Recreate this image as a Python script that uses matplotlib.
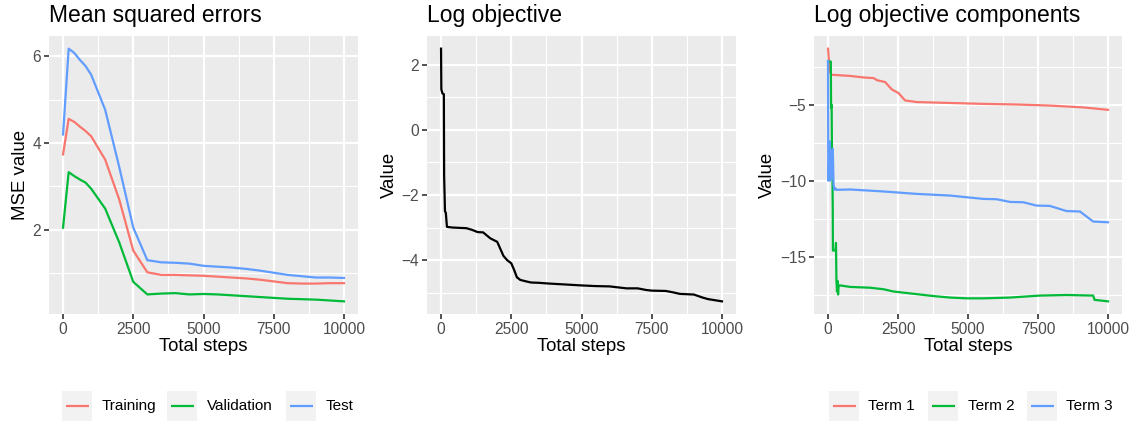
import matplotlib
matplotlib.use("Agg")
import matplotlib.pyplot as plt
from matplotlib.patches import Rectangle
from matplotlib.ticker import MultipleLocator

plt.rcParams['font.family'] = ['Liberation Sans', 'DejaVu Sans']

# --- data -------------------------------------------------------------
mse_steps = [0, 200, 400, 600, 800, 1000, 1500, 2000, 2500, 3000, 3500, 4000,
             4500, 5000, 5500, 6000, 6500, 7000, 7500, 8000, 8500, 9000, 9500, 10000]
mse_train = [3.74, 4.56, 4.49, 4.38, 4.28, 4.16, 3.62, 2.70, 1.52, 1.02, 0.96, 0.96,
             0.95, 0.94, 0.92, 0.90, 0.88, 0.85, 0.81, 0.77, 0.76, 0.76, 0.77, 0.77]
mse_valid = [2.05, 3.33, 3.24, 3.16, 3.09, 2.95, 2.49, 1.71, 0.80, 0.51, 0.53, 0.54,
             0.51, 0.52, 0.51, 0.49, 0.47, 0.45, 0.43, 0.41, 0.40, 0.39, 0.37, 0.35]
mse_test = [4.20, 6.18, 6.08, 5.92, 5.78, 5.58, 4.77, 3.45, 2.05, 1.30, 1.25, 1.24,
            1.22, 1.17, 1.15, 1.13, 1.10, 1.06, 1.01, 0.96, 0.93, 0.90, 0.90, 0.89]

obj_steps = [0, 10, 50, 100, 110, 140, 170, 210, 400, 900, 1100, 1300, 1500, 1750,
             2000, 2220, 2350, 2500, 2600, 2700, 2820, 3000, 3200, 3500, 3800, 4200,
             4600, 5000, 5500, 6000, 6400, 6600, 7000, 7300, 7500, 8000, 8300, 8500,
             9000, 9300, 9500, 10000]
obj_value = [2.50, 1.25, 1.12, 1.10, -1.40, -2.50, -2.55, -2.98, -3.00, -3.02, -3.07,
             -3.14, -3.15, -3.33, -3.44, -3.87, -4.00, -4.10, -4.30, -4.53, -4.61,
             -4.65, -4.69, -4.70, -4.72, -4.74, -4.76, -4.78, -4.80, -4.81, -4.85,
             -4.87, -4.87, -4.92, -4.94, -4.95, -5.00, -5.04, -5.06, -5.15, -5.20, -5.27]

t1_steps = [0, 70, 130, 800, 1270, 1630, 1750, 2040, 2280, 2520, 2750, 3170, 4360,
            5550, 6730, 7920, 9110, 10000]
t1_value = [-1.30, -2.84, -3.02, -3.10, -3.20, -3.24, -3.38, -3.50, -3.99, -4.23,
            -4.71, -4.82, -4.88, -4.94, -4.98, -5.05, -5.17, -5.33]

t2_steps = [0, 100, 110, 130, 140, 160, 170, 175, 270, 285, 300, 320, 340, 360, 380,
            430, 800, 1500, 1980, 2340, 2810, 3290, 3760, 4360, 4950, 5550, 6500,
            7560, 8520, 9470, 9520, 10000]
t2_value = [-2.15, -2.15, -5.20, -5.00, -7.80, -10.0, -12.0, -14.6, -14.6, -14.1,
            -16.5, -17.3, -16.6, -17.5, -16.9, -16.9, -17.0, -17.05, -17.15, -17.3,
            -17.4, -17.5, -17.6, -17.7, -17.75, -17.75, -17.7, -17.57, -17.53, -17.57,
            -17.85, -17.95]

t3_steps = [0, 10, 30, 50, 70, 90, 110, 140, 170, 200, 230, 260, 300, 800, 1980,
            3170, 4360, 4950, 5550, 6020, 6500, 6970, 7450, 7920, 8520, 9000, 9470, 10000]
t3_value = [-2.10, -10.0, -9.9, -7.4, -10.0, -8.0, -9.9, -8.0, -7.9, -10.3, -10.6,
            -10.5, -10.6, -10.58, -10.71, -10.87, -10.98, -11.09, -11.20, -11.22,
            -11.40, -11.42, -11.64, -11.66, -12.00, -12.03, -12.69, -12.74]

mse_labels = ["Training", "Validation", "Test"]
term_labels = ["Term 1", "Term 2", "Term 3"]
hue = ["#F8766D", "#00BA38", "#619CFF"]

# --- layout -----------------------------------------------------------
W, H = 1140, 421
fig = plt.figure(figsize=(W / 100, H / 100), dpi=100)


def px_axes(l, t, r, b):
    return fig.add_axes([l / W, 1 - b / H, (r - l) / W, (b - t) / H])


def style(ax, title, ylabel, ymajor, yminor, ydata):
    ax.set_facecolor("#EBEBEB")
    for s in ax.spines.values():
        s.set_visible(False)
    ax.set_xlim(-500, 10500)
    lo, hi = min(ydata), max(ydata)
    pad = (hi - lo) * 0.05
    ax.set_ylim(lo - pad, hi + pad)
    ax.xaxis.set_major_locator(MultipleLocator(2500))
    ax.xaxis.set_minor_locator(MultipleLocator(1250))
    ax.yaxis.set_major_locator(MultipleLocator(ymajor))
    ax.yaxis.set_minor_locator(MultipleLocator(yminor))
    ax.grid(which="major", color="white", lw=1.6)
    ax.grid(which="minor", color="white", lw=0.8)
    ax.set_axisbelow(True)
    ax.tick_params(which="major", length=3.5, width=1.2, color="#333333",
                   labelcolor="#4D4D4D", labelsize=11.2, pad=2)
    ax.tick_params(which="minor", length=0)
    ax.set_title(title, loc="left", fontsize=16.5, pad=10)
    ax.set_xlabel("Total steps", fontsize=13.4, labelpad=1)
    ax.set_ylabel(ylabel, fontsize=13.4, labelpad=3)
    ax.yaxis.set_major_formatter(
        matplotlib.ticker.FuncFormatter(lambda v, p: f"{v:g}".replace("-", "\u2212")))


ax1 = px_axes(49, 36, 358, 314)
for y, c in zip([mse_train, mse_valid, mse_test], hue):
    ax1.plot(mse_steps, y, color=c, lw=1.6)
style(ax1, "Mean squared errors", "MSE value", 2, 1, mse_train + mse_valid + mse_test)

ax2 = px_axes(427, 36, 736, 314)
ax2.plot(obj_steps, obj_value, color="black", lw=1.6)
style(ax2, "Log objective", "Value", 2, 1, obj_value)

ax3 = px_axes(814, 36, 1122, 314)
for xs, y, c in zip([t1_steps, t2_steps, t3_steps], [t1_value, t2_value, t3_value], hue):
    ax3.plot(xs, y, color=c, lw=1.6)
style(ax3, "Log objective components", "Value", 5, 2.5, t1_value + t2_value + t3_value)

# --- legends ----------------------------------------------------------
leg = fig.add_axes([0, 0, 1, 1], zorder=-1)
leg.set_xlim(0, W)
leg.set_ylim(H, 0)
leg.axis("off")


def draw_legend(keys_x, labels):
    for x, lab, c in zip(keys_x, labels, hue):
        leg.add_patch(Rectangle((x, 391), 30, 30, color="#F2F2F2", lw=0))
        leg.plot([x + 3.5, x + 26.5], [406, 406], color=c, lw=1.6,
                 solid_capstyle="butt")
        leg.text(x + 39.5, 406, lab, fontsize=11, va="center", ha="left")


draw_legend([62, 167, 286], mse_labels)
draw_legend([829, 928, 1027], term_labels)

fig.savefig("out.png", dpi=100)
